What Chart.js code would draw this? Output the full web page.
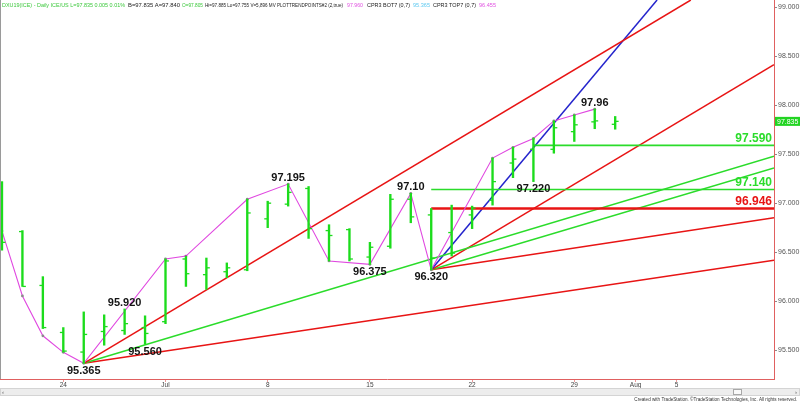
<!DOCTYPE html>
<html><head><meta charset="utf-8">
<script src="https://cdn.jsdelivr.net/npm/chart.js@4.4.1/dist/chart.umd.min.js"></script>
<style>
html,body{margin:0;padding:0;background:#fff;}
#wrap{position:relative;width:800px;height:402px;overflow:hidden;}
canvas{display:block;}
</style></head><body>
<div id="wrap"><canvas id="c" width="800" height="402"></canvas></div>
<script>
// ---- data (DXU19 daily) ----
const dates = ["Jun 19","Jun 20","Jun 21","Jun 24","Jun 25","Jun 26","Jun 27","Jun 28",
  "Jul 1","Jul 2","Jul 3","Jul 4","Jul 5","Jul 8","Jul 9","Jul 10","Jul 11","Jul 12",
  "Jul 15","Jul 16","Jul 17","Jul 18","Jul 19","Jul 22","Jul 23","Jul 24","Jul 25","Jul 26",
  "Jul 29","Jul 30","Jul 31"];
const opens  = [97.18,96.71,96.16,95.68,95.48,95.69,95.70,95.73,95.79,96.43,96.27,96.30,96.32,96.84,96.99,97.15,96.72,96.73,96.45,96.56,97.04,96.88,96.70,96.88,97.03,97.41,97.55,97.55,97.73,97.83,97.805];
const highs  = [97.22,96.72,96.25,95.73,95.89,95.86,95.92,95.85,96.43,96.46,96.44,96.39,97.04,97.02,97.195,97.17,96.78,96.74,96.60,97.09,97.10,96.946,96.98,96.97,97.46,97.57,97.66,97.84,97.90,97.96,97.885];
const lows   = [96.52,96.15,95.72,95.48,95.365,95.55,95.66,95.56,95.77,96.15,96.12,96.24,96.31,96.75,96.97,96.64,96.41,96.41,96.375,96.54,96.80,96.32,96.46,96.74,96.98,97.26,97.22,97.51,97.63,97.76,97.755];
const closes = [96.60,96.15,95.73,95.49,95.66,95.74,95.77,95.67,96.41,96.28,96.34,96.34,96.90,97.00,97.11,96.74,96.67,96.43,96.55,97.04,96.86,96.44,96.49,96.95,97.22,97.45,97.59,97.77,97.80,97.84,97.835];

// swing line (PLOTTRENDPOINTS)
const swingDates = ["Jun 19","Jun 20","Jun 21","Jun 24","Jun 25","Jul 1","Jul 2","Jul 5","Jul 9","Jul 11","Jul 15","Jul 17","Jul 18","Jul 23","Jul 24","Jul 25","Jul 26","Jul 29","Jul 30"];
const swingVals  = [96.715,96.053,95.646,95.477,95.365,96.43,96.46,97.04,97.195,96.41,96.375,97.10,96.32,97.46,97.57,97.66,97.84,97.90,97.96];

// pivot labels
const pivotDates = ["Jun 25","Jun 27","Jun 28","Jul 9","Jul 15","Jul 17","Jul 18","Jul 25","Jul 30"];
const pivotVals  = [95.365,95.920,95.560,97.195,96.375,97.10,96.320,97.220,97.96];
const pivotText  = ["95.365","95.920","95.560","97.195","96.375","97.10","96.320","97.220","97.96"];

// trend lines: from a pivot date/value to an end (trading-day position / value)
const trendFromDates = ["Jun 25","Jun 25","Jun 25","Jul 18","Jul 18","Jul 18","Jul 18"];
const trendFromVals  = [95.365,95.365,95.365,96.320,96.320,96.320,96.320];
const trendToDays    = [30.7,34.77,34.77,29.05,34.77,34.77,34.77];
const trendToVals    = [99.074,97.479,96.417,99.074,98.415,97.360,96.851];

// horizontal levels
const levelVals      = [97.590,97.140,96.946];
const levelFromDates = ["Jul 25","Jul 18","Jul 18"];

// x-axis ticks (trading days from Jun 24)
const xTickDays   = [0,5,10,15,20,25,28,30];
const xTickLabels = ["24","Jul","8","15","22","29","Aug","5"];
const yTickVals   = [95.5,96.0,96.5,97.0,97.5,98.0,98.5,99.0];
const lastPrice = 97.835;

// ---- styles / layout ----
const BAR = '#1cdc1c', GREEN = '#2bdc2b', RED = '#e81414', BLUE = '#2424cc', MAG = '#e048e0';
const trendColors = [RED, GREEN, RED, BLUE, RED, GREEN, RED];
const levelColors = [GREEN, GREEN, RED];
const levelWidths = [1.6, 1.6, 2.4];
const pivotBelow  = [true,false,true,false,true,false,true,true,false];
const X_MIN = -3.097, X_MAX = 34.77, Y_MIN = 95.205, Y_MAX = 99.074;
const FONT = '"Liberation Sans", Arial, sans-serif';

const base = dates.indexOf("Jun 24");
const day = d => dates.indexOf(d) - base;

const datasets = [];
// open ticks / close ticks
datasets.push({type:'line', order:0, showLine:false, pointStyle:'line', pointRadius:1.7, pointBorderWidth:1.3,
  pointHoverRadius:0, pointBorderColor:BAR, borderColor:BAR, data: dates.map((d,k)=>({x:day(d)-0.085, y:opens[k]}))});
datasets.push({type:'line', order:0, showLine:false, pointStyle:'line', pointRadius:1.7, pointBorderWidth:1.3,
  pointHoverRadius:0, pointBorderColor:BAR, borderColor:BAR, data: dates.map((d,k)=>({x:day(d)+0.085, y:closes[k]}))});
// high-low bars
datasets.push({type:'bar', order:1, backgroundColor:BAR, borderWidth:0, barThickness:1.7, grouped:false,
  data: dates.map((d,k)=>({x:day(d), y:[lows[k], highs[k]]}))});
// swing line
datasets.push({type:'line', order:2, borderColor:MAG, borderWidth:1.1, tension:0,
  pointRadius:1.4, pointBorderWidth:0, pointHoverRadius:0,
  pointBackgroundColor: swingDates.map(d => d==="Jul 2" ? '#e010e0' : '#8a8a8a'),
  data: swingDates.map((d,k)=>({x:day(d), y:swingVals[k]}))});
// levels
levelVals.forEach((v,k)=>{
  datasets.push({type:'line', order:3, borderColor:levelColors[k], borderWidth:levelWidths[k], pointRadius:0, pointHoverRadius:0,
    data:[{x:day(levelFromDates[k]), y:v},{x:X_MAX, y:v}]});
});
// trend lines
trendFromDates.forEach((d,k)=>{
  datasets.push({type:'line', order:4, borderColor:trendColors[k], borderWidth:1.5, pointRadius:0, pointHoverRadius:0, tension:0,
    data:[{x:day(d), y:trendFromVals[k]},{x:trendToDays[k], y:trendToVals[k]}]});
});

const overlay = {
  id:'overlay',
  afterDatasetsDraw(chart){
    const {ctx, scales:{x,y}, chartArea:a} = chart;
    ctx.save();
    ctx.font = 'bold 11px ' + FONT;
    ctx.fillStyle = '#141414'; ctx.textAlign = 'center'; ctx.textBaseline = 'alphabetic';
    pivotDates.forEach((d,k)=>{
      const px = x.getPixelForValue(day(d)), py = y.getPixelForValue(pivotVals[k]);
      ctx.fillText(pivotText[k], px, pivotBelow[k] ? py + 10.5 : py - 3);
    });
    ctx.font = 'bold 12px ' + FONT; ctx.textAlign = 'right';
    levelVals.forEach((v,k)=>{
      ctx.fillStyle = levelColors[k];
      ctx.fillText(v.toFixed(3), a.right - 2, y.getPixelForValue(v) - 3);
    });
    ctx.restore();
  },
  afterDraw(chart){
    const {ctx, scales:{y}, chartArea:a} = chart;
    ctx.save();
    // left border
    ctx.strokeStyle = '#9a9a9a'; ctx.lineWidth = 1;
    ctx.beginPath(); ctx.moveTo(0.5, 0); ctx.lineTo(0.5, a.bottom); ctx.stroke();
    // price box
    const py = y.getPixelForValue(lastPrice);
    ctx.fillStyle = '#22d422'; ctx.fillRect(a.right + 1, py - 4.5, 800 - a.right - 1, 9);
    ctx.fillStyle = '#ffffff'; ctx.font = '7px ' + FONT; ctx.textAlign = 'left'; ctx.textBaseline = 'middle';
    ctx.fillText(lastPrice.toFixed(3), a.right + 3, py + 0.5);
    // header
    const segs = [
      ["DXU19(ICE) - Daily ICE/US L=97.835 0.005 0.01%", '#3cc83c', 2, 123],
      ["B=97.835 A=97.840", '#222', 128, 52],
      ["O=97.805", '#3cc83c', 182, 21],
      ["Hi=97.885 Lo=97.755 V=5,896 MV PLOTTRENDPOINTS#2 (2,true)", '#222', 205, 138],
      ["97.960", '#e050e0', 347, 16],
      ["CPR3 BOT7 (0,7)", '#222', 367, 43],
      ["95.365", '#5cc8f0', 413, 17],
      ["CPR3 TOP7 (0,7)", '#222', 433, 43],
      ["96.455", '#e050e0', 479, 17]
    ];
    ctx.font = '6px ' + FONT; ctx.textBaseline = 'middle'; ctx.textAlign = 'left';
    segs.forEach(s => { ctx.fillStyle = s[1]; ctx.fillText(s[0], s[2], 5, s[3]); });
    // scrollbar
    ctx.fillStyle = '#ededed'; ctx.fillRect(0, 388, 800, 8);
    ctx.strokeStyle = '#d4d4d4'; ctx.strokeRect(0.5, 388.5, 799, 7);
    ctx.fillStyle = '#fafafa'; ctx.fillRect(733, 389, 9, 6);
    ctx.strokeStyle = '#a8a8a8'; ctx.strokeRect(733.5, 389.5, 8, 5);
    ctx.fillStyle = '#555'; ctx.font = '6px ' + FONT; ctx.textAlign = 'center';
    ctx.fillText('‹', 3, 392); ctx.fillText('›', 796, 392);
    // copyright
    ctx.font = '4.6px ' + FONT; ctx.textAlign = 'right'; ctx.textBaseline = 'alphabetic'; ctx.fillStyle = '#333';
    ctx.fillText('Created with TradeStation. \u00A9TradeStation Technologies, Inc. All rights reserved.', 797, 401);
    ctx.restore();
  }
};

const labelMap = {};
xTickDays.forEach((d,k)=>{ labelMap[d] = xTickLabels[k]; });

new Chart(document.getElementById('c'), {
  type:'line',
  data:{datasets},
  options:{
    responsive:false, animation:false, events:[],
    layout:{padding:0, autoPadding:false},
    plugins:{legend:{display:false}, tooltip:{enabled:false}},
    scales:{
      x:{type:'linear', min:X_MIN, max:X_MAX, offset:false,
        grid:{drawOnChartArea:false, drawTicks:true, tickLength:3, color:'#ec9a9a', offset:false},
        border:{display:true, color:'#e06060', width:1},
        ticks:{autoSkip:false, maxRotation:0, padding:-1, color:'#444', font:{size:6.5, family:FONT},
          callback:(v)=> labelMap[v] !== undefined ? labelMap[v] : ''},
        afterBuildTicks:s=>{ s.ticks = xTickDays.map(v=>({value:v})); },
        afterFit:s=>{ s.height = 23; s.paddingLeft = 0; s.paddingRight = 0; }
      },
      y:{type:'linear', position:'right', min:Y_MIN, max:Y_MAX,
        grid:{drawOnChartArea:false, drawTicks:true, tickLength:3, color:'#8a8a8a'},
        border:{display:true, color:'#e06060', width:1},
        ticks:{padding:1, color:'#555', font:{size:7, family:FONT}, callback:v=>Number(v).toFixed(3)},
        afterBuildTicks:s=>{ s.ticks = yTickVals.map(v=>({value:v})); },
        afterFit:s=>{ s.width = 26; s.paddingTop = 0; s.paddingBottom = 0; }
      }
    }
  },
  plugins:[overlay]
});
</script>
</body></html>
